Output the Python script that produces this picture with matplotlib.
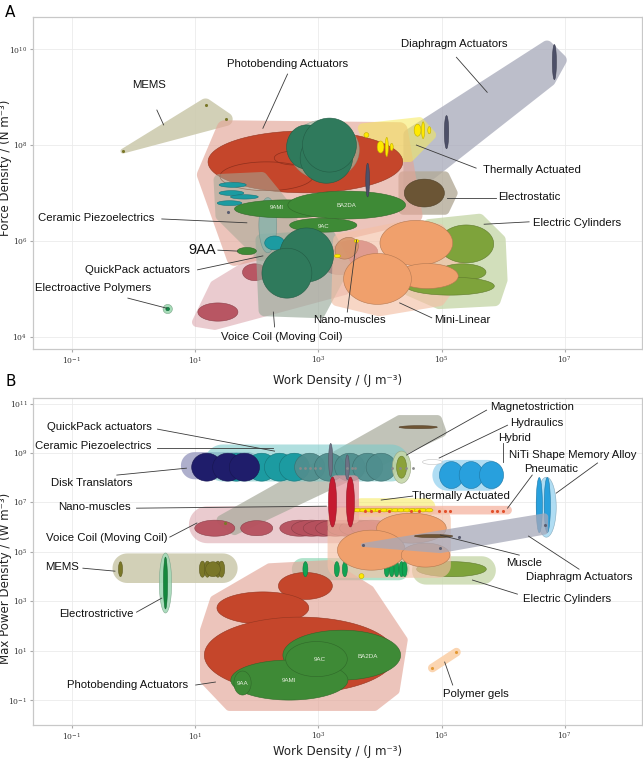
import numpy as np
import matplotlib.pyplot as plt
import matplotlib.colors as mcolors

plt.rcParams['font.family'] = ['Liberation Sans', 'DejaVu Sans']

# every position below is a log10 value: x = work density, y = force / power density
A_XLIM = (-1.63, 8.25)
A_YLIM = (3.75, 10.67)
B_YLIM = (-2.01, 11.23)
X_TICKS = [-1, 1, 3, 5, 7]
A_YTICKS = [4, 6, 8, 10]
B_YTICKS = [-1, 1, 3, 5, 7, 9, 11]

# fill colour and alpha per group
COL = {
    'mems_hull': ('#cdcbaf', 0.9), 'mems': ('#7a7728', 1),
    'diaph': ('#a6a8b9', 0.75), 'sliver': ('#4d5068', 1),
    'therm': ('#f6ea5a', 0.55), 'yellow': ('#ffe900', 1),
    'estat': ('#b3aa98', 0.8), 'estat_c': ('#6b5535', 1),
    'voice': ('#d9a1a9', 0.55), 'voice_e': ('#b6505d', 0.95),
    'photo_hull': ('#e3a597', 0.65), 'photo': ('#c5462b', 1),
    'photo_line': ('#8f2f1c', 1),
    'ceram': ('#a4a896', 0.55), 'qp': ('#9aab9c', 0.65),
    'teal': ('#1c9ba1', 1), 'teal_band': ('#7fb3ad', 0.7),
    'dgreen': ('#2f7a5c', 1), 'dg_halo': ('#9cc5b0', 0.6),
    'green': ('#3e8a36', 1),
    'mini_hull': ('#f4c0a6', 0.65), 'mini': ('#f0a06c', 1),
    'elcyl_hull': ('#c7d7aa', 0.8), 'elcyl': ('#7ea33b', 1),
    'nano_tan': ('#d8956a', 0.9),
    'eap_halo': ('#a6dcb8', 1), 'eap': ('#14894a', 1),
    'disk': ('#9a9bc0', 0.8), 'navy': ('#1f1d6b', 1),
    'ceram_b': ('#7ccaca', 0.6), 'grayteal': ('#4f8e8e', 0.95),
    'qp_b': ('#a7aa9b', 0.7), 'brown': ('#6e5434', 1),
    'slate': ('#6d7285', 1), 'olive_halo': ('#c5d6a8', 0.9),
    'olive': ('#8ba23a', 1), 'white': ('#ffffff', 1),
    'blue': ('#28a0dd', 1), 'blue_hull': ('#a3d7f1', 0.85),
    'pneu': ('#f5b3a0', 0.75), 'red_dot': ('#e2502b', 1),
    'nano_hull': ('#e598a1', 0.75), 'nano': ('#c51b31', 1),
    'mint': ('#86d4b0', 0.65), 'gsliver': ('#11a452', 1),
    'estr_halo': ('#a3d9b7', 0.9), 'estr': ('#15883d', 1),
    'gel': ('#fbd3ad', 0.95), 'gel_dot': ('#e49a35', 1),
    'gray_dot': ('#8a8a8a', 1), 'dia_dot': ('#5a5d70', 1),
}

# hulls: (group, z, round radius, points (x, y[, own radius]))
A_HULLS = [
    ('mems_hull', 1, 0.11, [(-0.17, 7.875, 0.04), (1.17, 8.83), (1.50, 8.54)]),
    ('diaph', 1, 0.1, [(4.48, 7.06), (4.48, 8.21), (6.71, 10.05), (6.93, 9.77), (6.75, 9.35)]),
    ('therm', 3, 0.08, [(3.72, 8.35), (4.64, 8.48), (4.83, 8.21), (4.48, 7.75), (3.91, 7.75)]),
    ('estat', 1.5, 0.08, [(4.38, 7.35), (5.05, 7.35), (5.18, 7.0), (5.05, 6.65), (4.38, 6.65)]),
    ('voice', 1, 0.08, [(1.03, 4.31), (1.32, 5.08), (2.05, 5.65), (3.51, 5.92), (3.67, 5.5), (3.43, 4.98), (1.32, 4.25)]),
    ('photo_hull', 2, 0.13, [(1.48, 8.35), (4.32, 8.31), (4.56, 6.54), (1.64, 5.65), (1.16, 7.38)]),
    ('ceram', 4, 0.1, [(1.40, 7.27), (2.08, 7.31), (2.57, 6.54), (2.45, 5.81), (2.08, 5.71), (1.43, 6.54)]),
    ('qp', 4, 0.1, [(2.08, 6.02), (3.18, 6.10), (3.43, 5.5), (3.02, 4.52), (2.13, 4.56)]),
    ('elcyl_hull', 4.5, 0.1, [(4.80, 6.33), (5.61, 6.44), (5.94, 6.02), (5.97, 5.19), (5.86, 4.77), (4.96, 4.71), (4.48, 4.98)]),
    ('mini_hull', 5, 0.1, [(3.34, 6.02), (4.32, 6.27), (4.96, 6.23), (5.32, 5.40), (4.96, 4.77), (3.99, 4.56), (3.31, 4.77)]),
]

# ellipses: (group, cx, cy, width, height, z[, angle])
A_ELLIPSES = [
    ('photo', 2.79, 7.65, 3.16, 1.29, 3),
    ('dg_halo', 3.10, 7.90, 1.13, 1.25, 5),
    ('dgreen', 2.81, 7.96, 0.65, 0.92, 6),
    ('dgreen', 3.13, 7.73, 0.85, 1.05, 6),
    ('dgreen', 3.18, 8.00, 0.875, 1.125, 6),
    ('teal', 1.61, 7.17, 0.44, 0.10, 5),
    ('teal', 1.59, 7.00, 0.40, 0.10, 5),
    ('teal', 1.80, 6.92, 0.45, 0.09, 5),
    ('teal', 1.56, 6.79, 0.40, 0.10, 5),
    ('green', 2.49, 6.67, 1.70, 0.375, 7),
    ('green', 3.46, 6.75, 1.91, 0.58, 7),
    ('green', 3.08, 6.33, 1.09, 0.29, 7),
    ('green', 1.84, 5.79, 0.31, 0.15, 7),
    ('estat_c', 4.72, 7.00, 0.65, 0.58, 6),
    ('teal_band', 2.18, 6.33, 0.29, 1.15, 4.5),
    ('teal', 2.29, 5.96, 0.32, 0.29, 6),
    ('voice_e', 1.37, 4.52, 0.65, 0.38, 2),
    ('voice_e', 1.97, 5.35, 0.40, 0.35, 2),
    ('voice_e', 3.59, 5.77, 0.75, 0.50, 2),
    ('voice_e', 3.35, 5.55, 0.60, 0.50, 2),
    ('dgreen', 2.81, 5.71, 0.875, 1.125, 7),
    ('dgreen', 2.49, 5.33, 0.81, 1.04, 7),
    ('elcyl', 5.40, 5.94, 0.89, 0.79, 6),
    ('elcyl', 5.34, 5.35, 0.76, 0.35, 6),
    ('elcyl', 5.14, 5.06, 1.43, 0.375, 6),
    ('mini', 4.59, 5.96, 1.18, 0.94, 7),
    ('mini', 4.77, 5.27, 1.00, 0.52, 7),
    ('mini', 3.96, 5.21, 1.10, 1.06, 7),
    ('nano_tan', 3.46, 5.85, 0.40, 0.42, 8, 35),
    ('yellow', 3.62, 6.00, 0.08, 0.06, 9),
    ('yellow', 3.31, 5.69, 0.10, 0.07, 9),
    ('yellow', 4.61, 8.31, 0.11, 0.25, 11),
    ('yellow', 4.70, 8.31, 0.05, 0.35, 11),
    ('yellow', 4.80, 8.31, 0.05, 0.15, 11),
    ('yellow', 4.01, 7.96, 0.11, 0.25, 11),
    ('yellow', 4.11, 7.96, 0.05, 0.40, 11),
    ('yellow', 4.19, 7.96, 0.05, 0.15, 11),
    ('yellow', 3.78, 8.21, 0.08, 0.10, 11),
    ('sliver', 6.83, 9.73, 0.065, 0.73, 12),
    ('sliver', 5.08, 8.27, 0.07, 0.69, 12),
    ('sliver', 3.80, 7.27, 0.06, 0.70, 12),
    ('eap_halo', 0.556, 4.583, 0.15, 0.19, 5),
    ('eap', 0.556, 4.583, 0.06, 0.07, 6),
]

# thin outline ellipses inside the photobending region
A_OUTLINES = [(2.16, 7.35, 1.51, 0.60), (2.61, 7.73, 0.65, 0.29)]

A_DOTS = [('mems', -0.17, 7.875), ('mems', 1.17, 8.83), ('mems', 1.50, 8.54), ('dia_dot', 1.53, 6.60)]

A_INNER = [('BA2DA', 3.46, 6.75), ('9AMI', 2.32, 6.69), ('9AC', 3.08, 6.31)]

# labels: (text, text x, text y, line start x, y, line end x, y)
A_LABELS = [
    ('Diaphragm Actuators', 5.21, 10.10, 5.24, 9.83, 5.74, 9.10),
    ('Photobending Actuators', 2.50, 9.69, 2.50, 9.48, 2.10, 8.35),
    ('MEMS', 0.26, 9.25, 0.38, 8.73, 0.49, 8.42),
    ('Thermally Actuated', 6.46, 7.48, 5.56, 7.52, 4.59, 8.00),
    ('Electrostatic', 6.42, 6.92, 5.89, 6.90, 5.09, 6.90),
    ('Electric Cylinders', 7.20, 6.38, 6.42, 6.40, 5.69, 6.35),
    ('Mini-Linear', 5.34, 4.35, 4.84, 4.40, 4.32, 4.71),
    ('Nano-muscles', 3.51, 4.35, 3.47, 4.52, 3.62, 6.02),
    ('Voice Coil (Moving Coil)', 2.40, 4.00, 2.29, 4.21, 2.27, 4.52),
    ('Ceramic Piezoelectrics', -0.60, 6.48, 0.46, 6.46, 1.84, 6.38),
    ('QuickPack actuators', 0.07, 5.40, 1.04, 5.40, 2.10, 5.69),
    ('Electroactive Polymers', -0.66, 5.02, -0.09, 4.81, 0.54, 4.60),
]
A_BIG_LABEL = ('9AA', 1.12, 5.81, 1.37, 5.81, 1.69, 5.79)

B_HULLS = [
    ('voice', 1, 0.3, [(1.2, 6.1), (4.1, 6.1)]),
    ('mems_hull', 1, 0.24, [(-0.1, 4.34), (1.45, 4.34)]),
    ('mint', 2, 0.18, [(2.75, 4.3), (4.3, 4.3)]),
    ('qp_b', 2, 0.08, [(1.43, 6.29), (1.64, 5.88), (4.32, 10.34), (4.93, 10.34), (5.0, 9.85)]),
    ('disk', 2.2, 0.22, [(0.99, 8.49), (1.85, 8.49)]),
    ('ceram_b', 2.5, 0.3, [(1.45, 8.6), (4.18, 8.6)]),
    ('photo_hull', 2.5, 0.08, [(1.32, 3.05), (2.21, 4.34), (3.18, 4.47), (3.83, 3.45), (4.37, 1.43),
                               (4.24, -0.6), (3.91, -1.24), (1.56, -1.24), (1.16, -0.19), (1.16, 1.83)]),
    ('elcyl_hull', 3, 0.23, [(4.75, 4.25), (5.65, 4.25)]),
    ('blue_hull', 3, 0.25, [(5.1, 8.1), (5.75, 8.1)]),
    ('gel', 3, 0.07, [(4.85, 0.30), (5.24, 0.94)]),
    ('therm', 4, 0.15, [(3.7, 6.8), (4.75, 6.8)]),
    ('pneu', 4, 0.07, [(3.55, 6.69), (6.07, 6.69)]),
    ('nano_hull', 5, 0.08, [(3.29, 7.9), (3.58, 7.9), (3.58, 6.35), (3.29, 6.35)]),
    ('mini_hull', 5, 0.2, [(3.35, 6.3), (4.95, 6.3), (4.95, 4.45), (3.35, 4.45)]),
    ('diaph', 7, 0.06, [(3.72, 5.28, 0.03), (6.67, 6.41), (6.67, 5.85), (4.98, 5.10)]),
]

B_ELLIPSES = [
    ('voice_e', 1.32, 5.96, 0.65, 0.65, 3),
    ('voice_e', 2.00, 5.96, 0.52, 0.61, 3),
    ('voice_e', 2.70, 5.96, 0.65, 0.65, 3),
    ('voice_e', 2.89, 5.96, 0.65, 0.65, 3),
    ('voice_e', 3.08, 5.96, 0.65, 0.65, 3),
    ('voice_e', 3.28, 5.96, 0.65, 0.65, 3),
    ('voice_e', 3.47, 5.96, 0.65, 0.65, 3),
    ('voice_e', 3.67, 5.96, 0.65, 0.65, 3),
    ('voice_e', 3.86, 5.96, 0.65, 0.65, 3),
    ('teal', 1.67, 8.43, 0.49, 1.13, 4),
    ('teal', 2.08, 8.43, 0.49, 1.13, 4),
    ('teal', 2.37, 8.43, 0.49, 1.13, 4),
    ('teal', 2.61, 8.43, 0.49, 1.13, 4),
    ('grayteal', 2.86, 8.43, 0.49, 1.13, 4.2),
    ('grayteal', 3.18, 8.43, 0.49, 1.13, 4.2),
    ('grayteal', 3.51, 8.43, 0.49, 1.13, 4.2),
    ('grayteal', 3.80, 8.43, 0.49, 1.13, 4.2),
    ('grayteal', 4.02, 8.43, 0.49, 1.13, 4.2),
    ('navy', 1.19, 8.43, 0.49, 1.13, 4.5),
    ('navy', 1.53, 8.43, 0.49, 1.13, 4.5),
    ('navy', 1.80, 8.43, 0.49, 1.13, 4.5),
    ('brown', 4.62, 10.05, 0.62, 0.12, 8),
    ('slate', 3.20, 8.72, 0.065, 1.34, 9),
    ('slate', 3.47, 8.43, 0.065, 1.00, 9),
    ('olive_halo', 4.35, 8.43, 0.30, 1.30, 5),
    ('olive', 4.35, 8.43, 0.16, 0.89, 6),
    ('white', 4.85, 8.64, 0.32, 0.20, 6),
    ('blue', 5.16, 8.11, 0.39, 1.09, 4),
    ('blue', 5.48, 8.11, 0.39, 1.09, 4),
    ('blue', 5.81, 8.11, 0.39, 1.09, 4),
    ('blue_hull', 6.70, 6.81, 0.32, 2.43, 3),
    ('blue', 6.585, 6.895, 0.10, 2.23, 4),
    ('blue', 6.715, 6.895, 0.10, 2.23, 4),
    ('nano', 3.23, 7.02, 0.13, 2.02, 6),
    ('nano', 3.52, 7.02, 0.13, 2.02, 6),
    ('mini', 4.51, 5.96, 1.13, 1.21, 6),
    ('mini', 3.86, 5.07, 1.10, 1.62, 6),
    ('mini', 4.74, 4.87, 0.79, 0.97, 6),
    ('brown', 4.87, 5.64, 0.62, 0.12, 8),
    ('mems', -0.21, 4.30, 0.065, 0.60, 2),
    ('mems', 1.12, 4.30, 0.10, 0.65, 2),
    ('mems', 1.20, 4.30, 0.10, 0.65, 2),
    ('mems', 1.37, 4.30, 0.10, 0.65, 2),
    ('mems', 1.43, 4.30, 0.10, 0.65, 2),
    ('mems', 1.29, 4.30, 0.24, 0.60, 2.1),
    ('estr_halo', 0.52, 3.74, 0.20, 2.43, 3),
    ('estr', 0.52, 3.74, 0.065, 2.10, 4),
    ('elcyl', 5.16, 4.30, 1.13, 0.61, 4),
    ('gsliver', 2.79, 4.30, 0.08, 0.61, 5),
    ('gsliver', 3.30, 4.30, 0.08, 0.61, 5),
    ('gsliver', 3.43, 4.30, 0.08, 0.61, 5),
    ('gsliver', 4.11, 4.30, 0.08, 0.61, 5),
    ('gsliver', 4.19, 4.30, 0.08, 0.61, 5),
    ('gsliver', 4.27, 4.30, 0.08, 0.61, 5),
    ('gsliver', 4.35, 4.30, 0.08, 0.61, 5),
    ('gsliver', 4.40, 4.30, 0.08, 0.61, 5),
    ('yellow', 3.70, 4.02, 0.08, 0.20, 5),
    ('photo', 2.79, 3.62, 0.875, 1.09, 3),
    ('photo', 2.10, 2.73, 1.49, 1.30, 3),
    ('photo', 2.70, 0.82, 3.10, 3.08, 3),
    ('green', 3.38, 0.82, 1.91, 2.02, 4),
    ('green', 2.53, -0.19, 1.90, 1.62, 4.1),
    ('green', 2.97, 0.66, 1.00, 1.42, 4.2),
    ('green', 1.77, -0.31, 0.28, 0.97, 4.3),
]

# flat yellow marks of the thermally actuated row and red pneumatic dots
B_THERM_X = [3.56, 3.64, 3.73, 3.82, 3.90, 3.98, 4.07, 4.16, 4.25, 4.34, 4.44, 4.53, 4.62, 4.70, 4.80]
B_PNEU_X = [3.75, 3.86, 3.99, 4.15, 4.51, 4.64, 4.96, 5.05, 5.13, 5.82, 5.90, 5.99]
B_GRAY_X = [2.70, 2.78, 2.86, 2.94, 3.02, 3.47, 3.54, 3.60, 4.20, 4.32, 4.43, 4.53]

B_DOTS = [('dia_dot', 3.72, 5.28), ('dia_dot', 4.98, 5.15), ('dia_dot', 5.29, 5.60), ('dia_dot', 6.68, 6.09),
          ('mems', 1.48, 6.17), ('gel_dot', 4.85, 0.30), ('gel_dot', 5.24, 0.94)]

B_INNER = [('9AC', 3.02, 0.66), ('BA2DA', 3.80, 0.78), ('9AMI', 2.52, -0.19), ('9AA', 1.77, -0.31)]

B_LABELS = [
    ('Magnetostriction', 6.46, 10.86, 5.73, 10.74, 4.43, 8.92),
    ('Hydraulics', 6.54, 10.22, 6.07, 10.13, 4.96, 8.80),
    ('Hybrid', 6.18, 9.61, 5.99, 9.41, 5.99, 8.64),
    ('NiTi Shape Memory Alloy', 7.12, 8.92, 7.53, 8.60, 6.86, 7.38),
    ('Pneumatic', 6.78, 8.35, 6.47, 8.11, 6.07, 6.77),
    ('Thermally Actuated', 5.32, 7.26, 4.53, 7.26, 4.02, 7.10),
    ('Muscle', 6.34, 4.55, 6.26, 4.87, 4.98, 5.68),
    ('Diaphragm Actuators', 7.23, 3.98, 7.23, 4.30, 6.41, 5.64),
    ('Electric Cylinders', 7.04, 3.09, 6.23, 3.29, 5.50, 3.86),
    ('Polymer gels', 5.56, -0.76, 5.18, -0.39, 5.05, 0.54),
    ('QuickPack actuators', -0.55, 10.05, 0.39, 9.97, 2.29, 9.08),
    ('Ceramic Piezoelectrics', -0.66, 9.28, 0.38, 9.20, 2.26, 9.20),
    ('Disk Translators', -0.68, 7.79, -0.27, 8.11, 0.86, 8.39),
    ('Nano-muscles', -0.63, 6.81, 0.05, 6.77, 3.13, 6.85),
    ('Voice Coil (Moving Coil)', -0.43, 5.56, 0.59, 5.60, 1.03, 6.17),
    ('MEMS', -1.16, 4.39, -0.82, 4.34, -0.30, 4.22),
    ('Electrostrictive', -0.60, 2.48, 0.05, 2.56, 0.46, 3.13),
    ('Photobending Actuators', -0.09, -0.39, 1.01, -0.39, 1.33, -0.27),
]


def darker(c, f=0.75):
    r, g, b = mcolors.to_rgb(c)
    return (r * f, g * f, b * f)


def xy_scale(ax):
    # pixels per x decade divided by pixels per y decade
    bb = ax.get_position()
    fw, fh = ax.figure.get_size_inches()
    x0, x1 = np.log10(ax.get_xlim())
    y0, y1 = np.log10(ax.get_ylim())
    return (bb.width * fw / (x1 - x0)) / (bb.height * fh / (y1 - y0))


def convex_hull(pts):
    pts = sorted(set(pts))
    def cross(o, a, b):
        return (a[0] - o[0]) * (b[1] - o[1]) - (a[1] - o[1]) * (b[0] - o[0])
    lo, up = [], []
    for q in pts:
        while len(lo) >= 2 and cross(lo[-2], lo[-1], q) <= 0:
            lo.pop()
        lo.append(q)
    for q in reversed(pts):
        while len(up) >= 2 and cross(up[-2], up[-1], q) <= 0:
            up.pop()
        up.append(q)
    return np.array(lo[:-1] + up[:-1])


def draw_hull(ax, k, key, z, r, pts):
    t = np.linspace(0, 2 * np.pi, 48, endpoint=False)
    cloud = []
    for p in pts:
        rr = p[2] if len(p) > 2 else r
        for a in t:
            cloud.append((round(p[0] + rr * np.cos(a), 5), round(p[1] + rr * k * np.sin(a), 5)))
    h = convex_hull(cloud)
    c, al = COL[key]
    ax.fill(10 ** h[:, 0], 10 ** h[:, 1], color=c, alpha=al, lw=0, zorder=z)


def draw_ellipse(ax, k, key, cx, cy, w, h, z, ang=0, face=True):
    t = np.linspace(0, 2 * np.pi, 120)
    ex = w / 2 * np.cos(t)
    ey = h / 2 / k * np.sin(t)
    a = np.deg2rad(ang)
    x = cx + ex * np.cos(a) - ey * np.sin(a)
    y = cy + (ex * np.sin(a) + ey * np.cos(a)) * k
    c, al = COL[key]
    if face:
        ax.fill(10 ** x, 10 ** y, facecolor=c, alpha=al, edgecolor=darker(c), lw=0.4, zorder=z)
    else:
        ax.plot(10 ** x, 10 ** y, color=c, lw=0.5, zorder=z)


def label(ax, item, size=8.2):
    s, tx, ty, x0, y0, x1, y1 = item
    ax.plot([10 ** x0, 10 ** x1], [10 ** y0, 10 ** y1], color='#3a3a3a', lw=0.6, zorder=20)
    ax.text(10 ** tx, 10 ** ty, s, ha='center', va='center', fontsize=size, color='#111111', zorder=21)


def setup(ax, ylim, yticks, ylabel, ylab_y, xlab_y):
    ax.set_xscale('log')
    ax.set_yscale('log')
    ax.set_xlim(10 ** A_XLIM[0], 10 ** A_XLIM[1])
    ax.set_ylim(10 ** ylim[0], 10 ** ylim[1])
    ax.set_xticks([10.0 ** v for v in X_TICKS])
    ax.set_yticks([10.0 ** v for v in yticks])
    ax.minorticks_off()
    ax.grid(True, color='#ebebeb', lw=0.6, zorder=0)
    ax.set_axisbelow(True)
    ax.tick_params(labelsize=5.5, length=2, color='#aaaaaa', labelcolor='#333333',
                   labelfontfamily='DejaVu Serif', pad=2)
    for sp in ax.spines.values():
        sp.set_color('#c8c8c8')
        sp.set_linewidth(0.9)
    ax.set_xlabel('Work Density / (J m⁻³)', fontsize=8.5, family='DejaVu Sans', color='#222222')
    ax.set_ylabel(ylabel, fontsize=8.5, family='DejaVu Sans', color='#222222')
    ax.xaxis.set_label_coords(0.5, xlab_y)
    ax.yaxis.set_label_coords(-0.035, ylab_y)


fig = plt.figure(figsize=(6.43, 7.58), dpi=100)
axA = fig.add_axes([0.0513, 0.5396, 0.947, 0.438])
axB = fig.add_axes([0.0513, 0.0435, 0.947, 0.4314])

setup(axA, A_YLIM, A_YTICKS, 'Force Density / (N m⁻³)', 0.545, -0.075)
setup(axB, B_YLIM, B_YTICKS, 'Max Power Density / (W m⁻³)', 0.45, -0.062)

kA = xy_scale(axA)
kB = xy_scale(axB)

# panel A
for key, z, r, pts in A_HULLS:
    draw_hull(axA, kA, key, z, r, pts)
for e in A_ELLIPSES:
    draw_ellipse(axA, kA, *e)
for cx, cy, w, h in A_OUTLINES:
    draw_ellipse(axA, kA, 'photo_line', cx, cy, w, h, 3.1, face=False)
for key, x, y in A_DOTS:
    axA.scatter(10 ** x, 10 ** y, s=5, color=COL[key][0], lw=0, zorder=10)
for s, x, y in A_INNER:
    axA.text(10 ** x, 10 ** y, s, ha='center', va='center', fontsize=4.3, color='#e8f0e0', zorder=9)
for it in A_LABELS:
    label(axA, it)
label(axA, A_BIG_LABEL, size=10.5)

# panel B
for key, z, r, pts in B_HULLS:
    draw_hull(axB, kB, key, z, r, pts)
for e in B_ELLIPSES:
    draw_ellipse(axB, kB, *e)
for x in B_THERM_X:
    draw_ellipse(axB, kB, 'yellow', x, 6.69, 0.12, 0.14, 5)
axB.scatter(10.0 ** np.array(B_PNEU_X), np.full(len(B_PNEU_X), 10 ** 6.65), s=5,
            color=COL['red_dot'][0], lw=0, zorder=5.5)
axB.scatter(10.0 ** np.array(B_GRAY_X), np.full(len(B_GRAY_X), 10 ** 8.39), s=4,
            color=COL['gray_dot'][0], lw=0, zorder=9)
for key, x, y in B_DOTS:
    axB.scatter(10 ** x, 10 ** y, s=5, color=COL[key][0], lw=0, zorder=10)
for s, x, y in B_INNER:
    axB.text(10 ** x, 10 ** y, s, ha='center', va='center', fontsize=4.5, color='#e8f0e0', zorder=9)
for it in B_LABELS:
    label(axB, it)

fig.text(0.008, 0.993, 'A', fontsize=11, va='top', family='DejaVu Sans')
fig.text(0.008, 0.507, 'B', fontsize=11, va='top', family='DejaVu Sans')

fig.savefig('out.png', dpi=100)
